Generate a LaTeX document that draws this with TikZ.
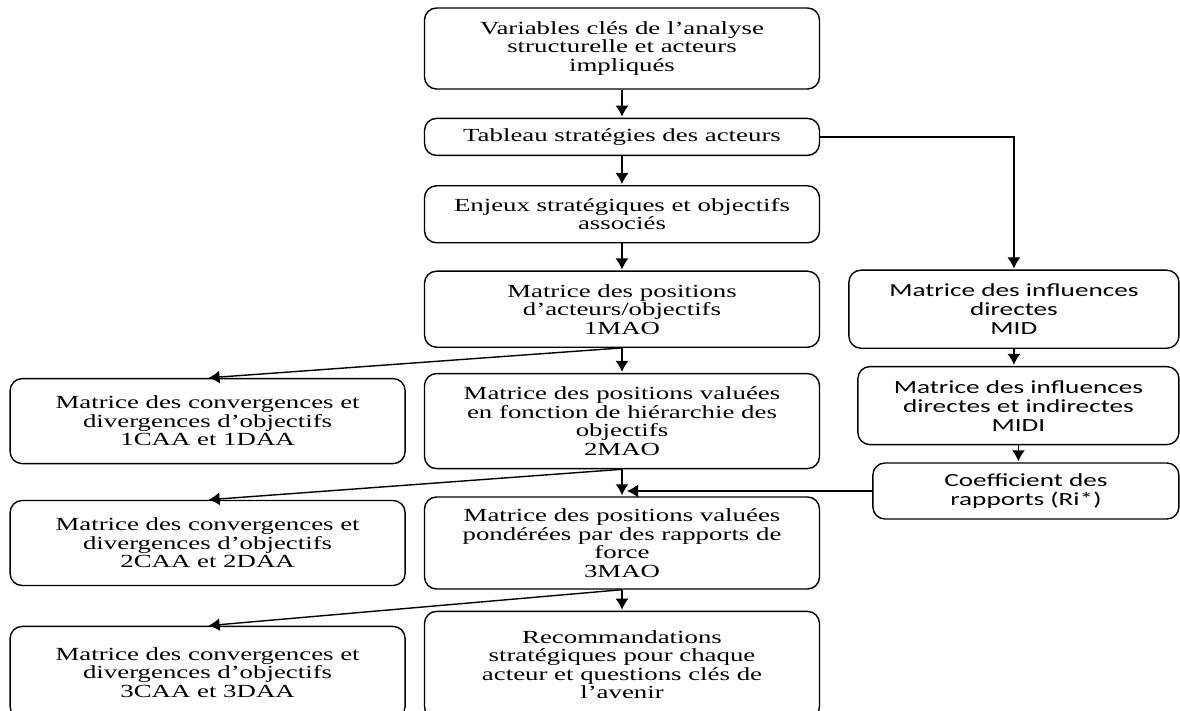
\documentclass[tikz,border=0pt]{standalone}
\usepackage{fontspec}
\newfontfamily\boxserif[FakeStretch=1.45]{Liberation Serif}
\newfontfamily\boxsans[FakeStretch=1.47]{Carlito}
\usetikzlibrary{arrows.meta,positioning}

\begin{document}
\begin{tikzpicture}[x=1pt,y=-1pt,>={Latex[length=11pt,width=13pt]},shorten >=1pt,
                    node distance=26pt,line width=1.4pt,
                    main node/.style={rectangle,rounded corners=12pt,draw,align=center,
                      inner sep=2pt,minimum width=395pt,
                      font=\boxserif\fontsize{18.5}{18.5}\selectfont},
                    side node/.style={main node,font=\boxsans\fontsize{18.5}{19}\selectfont}]
  \useasboundingbox (0,0) rectangle (1180,711);
  % main column
  \node[main node,minimum height=81pt] (vars) at (622,48.5)
    {Variables clés de l’analyse\\structurelle et acteurs\\impliqués};
  \node[main node,minimum height=37pt] (tab) [below=28pt of vars]
    {Tableau stratégies des acteurs};
  \node[main node,minimum height=57pt] (enj) [below=29pt of tab]
    {Enjeux stratégiques et objectifs\\associés};
  \node[main node,minimum height=76pt] (mao1) [below=27pt of enj]
    {Matrice des positions\\d’acteurs/objectifs\\1MAO};
  \node[main node,minimum height=95pt] (mao2) [below=25pt of mao1]
    {Matrice des positions valuées\\en fonction de hiérarchie des\\objectifs\\2MAO};
  \node[main node,minimum height=92pt] (mao3) [below=27pt of mao2]
    {Matrice des positions valuées\\pondérées par des rapports de\\force\\3MAO};
  \node[main node,minimum height=107pt] (reco) [below=21pt of mao3]
    {Recommandations\\stratégiques pour chaque\\acteur et questions clés de\\l’avenir};
  % left column
  \node[main node,minimum height=85pt] (caa1) [left=18pt of mao2]
    {Matrice des convergences et\\divergences d’objectifs\\1CAA et 1DAA};
  \node[main node,minimum height=85pt] (caa2) [left=18pt of mao3]
    {Matrice des convergences et\\divergences d’objectifs\\2CAA et 2DAA};
  \node[main node,minimum height=92pt,yshift=-7.5pt] (caa3) [left=18pt of reco]
    {Matrice des convergences et\\divergences d’objectifs\\3CAA et 3DAA};
  % right column
  \node[side node,minimum width=330pt,minimum height=78pt] (mid) [right=28pt of mao1]
    {Matrice des influences\\directes\\MID};
  \node[side node,minimum width=321pt,minimum height=78pt] (midi)
    [below=17pt of mid.south east,anchor=north east]
    {Matrice des influences\\directes et indirectes\\MIDI};
  \node[side node,minimum width=306pt,minimum height=56pt] (coef)
    [below=17pt of midi.south east,anchor=north east]
    {Coefficient des\\rapports (Ri*)};
  \path[->]
    (vars) edge (tab)
    (tab) edge (enj)
    (enj) edge (mao1)
    (mao1) edge (mao2)
    (mao2) edge (mao3)
    (mao3) edge (reco)
    (mao1.south) edge (caa1.north)
    (mao2.south) edge (caa2.north)
    (mao3.south) edge (caa3.north)
    (mid.south) edge (mid.south |- midi.north)
    (midi.south) edge (midi.south |- coef.north)
    ;
  \draw[->] (tab.east) -| (mid.north);
  \draw[->,shorten >=5pt] (coef.west) -- (coef.west -| mao2.south);
\end{tikzpicture}
\end{document}
